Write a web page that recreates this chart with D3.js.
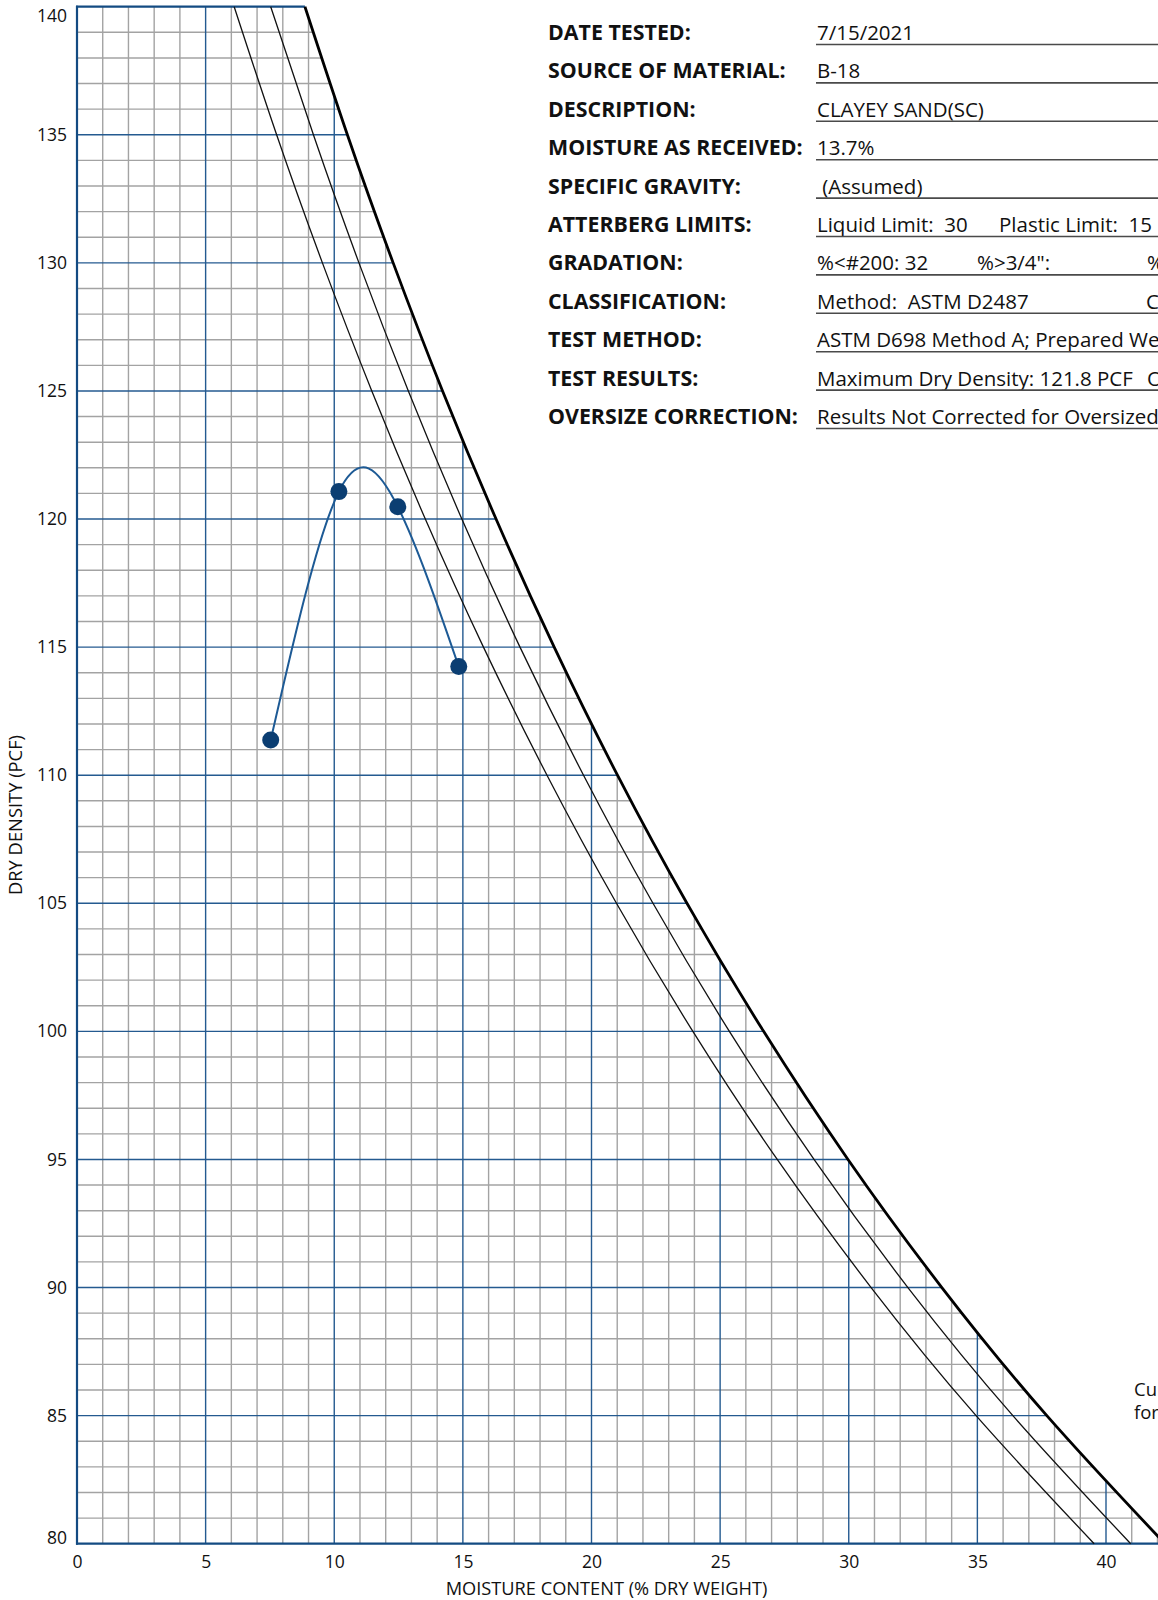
<!DOCTYPE html>
<html>
<head>
<meta charset="utf-8">
<script src="https://cdn.jsdelivr.net/npm/d3@7"></script>
<style>
  html, body { margin: 0; padding: 0; background: #fff; }
  svg { display: block; }
  text { font-family: "Open Sans", "Noto Sans", sans-serif; fill: #111; }
</style>
</head>
<body>
<svg id="chart" width="1158" height="1600"></svg>
<script>
// ---------------- DATA ----------------
const xTicks = [0, 5, 10, 15, 20, 25, 30, 35, 40];
const yTicks = [80, 85, 90, 95, 100, 105, 110, 115, 120, 125, 130, 135, 140];

// Compaction test points
const moisture = [7.53, 10.18, 12.47, 14.84];
const dryDensity = [111.37, 121.07, 120.48, 114.24];

// Zero-air-voids (100% saturation) curves, read at each 5 pcf level
const zavDensity = [140, 135, 130, 125, 120, 115, 110, 105, 100, 95, 90, 85, 80];
const zavGs260 = [6.11, 7.76, 9.54, 11.46, 13.54, 15.80, 18.27, 20.97, 23.94, 27.22, 30.87, 34.95, 39.54];
const zavGs270 = [7.53, 9.19, 10.96, 12.88, 14.96, 17.22, 19.69, 22.39, 25.36, 28.65, 32.30, 36.38, 40.96];
const zavGs280 = [8.86, 10.51, 12.29, 14.21, 16.29, 18.55, 21.01, 23.71, 26.69, 29.97, 33.62, 37.70, 42.29];

// Info panel
const infoLabels = ["DATE TESTED:", "SOURCE OF MATERIAL:", "DESCRIPTION:", "MOISTURE AS RECEIVED:",
  "SPECIFIC GRAVITY:", "ATTERBERG LIMITS:", "GRADATION:", "CLASSIFICATION:", "TEST METHOD:",
  "TEST RESULTS:", "OVERSIZE CORRECTION:"];
const infoValues = [
  ["7/15/2021"],
  ["B-18"],
  ["CLAYEY SAND(SC)"],
  ["13.7%"],
  [" (Assumed)"],
  ["Liquid Limit:  30", "Plastic Limit:  15"],
  ["%<#200: 32", "%>3/4\":", "%>#4:"],
  ["Method:  ASTM D2487", "Classification: SC"],
  ["ASTM D698 Method A; Prepared Wet"],
  ["Maximum Dry Density: 121.8 PCF", "Optimum Moisture: 11.1%"],
  ["Results Not Corrected for Oversized Particles"]
];
const sideNote = ["Curves of 100% Saturation", "for Specific Gravity Equal to:"];

// ---------------- LAYOUT ----------------
const svg = d3.select("#chart");
const x = d3.scaleLinear().domain([0, 40]).range([77, 1106]);
const y = d3.scaleLinear().domain([80, 140]).range([1543.7, 6.7]);

const BLUE = "#245a90";
const AXIS_BLUE = "#134b82";
const GRAY = "#a3a3a3";

const zavLine = d3.line().x(d => x(d[0])).y(d => y(d[1])).curve(d3.curveNatural);
const zip = arr => arr.map((w, i) => [w, zavDensity[i]]);

// clip: region below the Gs = 2.80 saturation curve
const boldPath = zavLine(zip(zavGs280));
const clipD = `M${x(0)},${y(140)}L` + boldPath.slice(1) + `L${x(0)},${y(80)}Z`;
svg.append("defs").append("clipPath").attr("id", "under")
  .append("path").attr("d", clipD);

const grid = svg.append("g").attr("clip-path", "url(#under)");
const minor = d3.range(0, 44, 1);
const minorY = d3.range(80, 141, 1);

grid.selectAll(".vmin").data(minor.filter(v => v % 5 !== 0)).join("line")
  .attr("x1", d => x(d)).attr("x2", d => x(d)).attr("y1", y(80)).attr("y2", y(140))
  .attr("stroke", GRAY).attr("stroke-width", 1.4);
grid.selectAll(".hmin").data(minorY.filter(v => v % 5 !== 0)).join("line")
  .attr("y1", d => y(d)).attr("y2", d => y(d)).attr("x1", x(0)).attr("x2", x(44))
  .attr("stroke", GRAY).attr("stroke-width", 1.4);
grid.selectAll(".vmaj").data(xTicks.filter(v => v > 0)).join("line")
  .attr("x1", d => x(d)).attr("x2", d => x(d)).attr("y1", y(80)).attr("y2", y(140))
  .attr("stroke", BLUE).attr("stroke-width", 1.4);
grid.selectAll(".hmaj").data(yTicks.filter(v => v > 80 && v < 140)).join("line")
  .attr("y1", d => y(d)).attr("y2", d => y(d)).attr("x1", x(0)).attr("x2", x(44))
  .attr("stroke", BLUE).attr("stroke-width", 1.4);

// frame
svg.append("line").attr("x1", x(0)).attr("x2", x(0)).attr("y1", y(140) - 1).attr("y2", y(80) + 1)
  .attr("stroke", AXIS_BLUE).attr("stroke-width", 2.2);
svg.append("line").attr("x1", x(0) - 1).attr("x2", x(44)).attr("y1", y(80)).attr("y2", y(80))
  .attr("stroke", AXIS_BLUE).attr("stroke-width", 2.2);
svg.append("line").attr("x1", x(0) - 1).attr("x2", x(zavGs280[0])).attr("y1", y(140)).attr("y2", y(140))
  .attr("stroke", AXIS_BLUE).attr("stroke-width", 2.2);

// saturation curves
svg.append("path").attr("d", zavLine(zip(zavGs260))).attr("fill", "none").attr("stroke", "#111").attr("stroke-width", 1.3);
svg.append("path").attr("d", zavLine(zip(zavGs270))).attr("fill", "none").attr("stroke", "#111").attr("stroke-width", 1.3);
svg.append("path").attr("d", boldPath).attr("fill", "none").attr("stroke", "#000").attr("stroke-width", 2.8);

// compaction curve
const pts = moisture.map((m, i) => [m, dryDensity[i]]);
svg.append("path").attr("d", d3.line().x(d => x(d[0])).y(d => y(d[1])).curve(d3.curveNatural)(pts))
  .attr("fill", "none").attr("stroke", "#1d5a95").attr("stroke-width", 2);
svg.selectAll(".pt").data(pts).join("circle")
  .attr("cx", d => x(d[0])).attr("cy", d => y(d[1])).attr("r", 8.5).attr("fill", "#0b3e72");

// axes (labels only)
const yAxis = svg.append("g").attr("transform", `translate(${x(0)},0)`)
  .call(d3.axisLeft(y).tickValues(yTicks).tickSize(0).tickPadding(10));
yAxis.select(".domain").remove();
yAxis.selectAll("text").attr("font-size", 17.5).attr("font-family", "'Open Sans', sans-serif").attr("fill", "#111")
  .attr("y", d => d === 140 ? 9 : (d === 80 ? -6 : 0));

const xAxis = svg.append("g").attr("transform", `translate(0,${y(80)})`)
  .call(d3.axisBottom(x).tickValues(xTicks).tickSize(0).tickPadding(12));
xAxis.select(".domain").remove();
xAxis.selectAll("text").attr("font-size", 17.5).attr("font-family", "'Open Sans', sans-serif").attr("fill", "#111");

function fit(sel, target) {
  const w = sel.node().getComputedTextLength();
  const fs = parseFloat(sel.attr("font-size"));
  sel.attr("font-size", (fs * target / w).toFixed(2));
  return fs * target / w;
}

const xt = svg.append("text").attr("x", 606.5).attr("y", 1595).attr("text-anchor", "middle")
  .attr("font-size", 16).text("MOISTURE CONTENT (% DRY WEIGHT)");
fit(xt, 322);
const yt = svg.append("text").attr("transform", "translate(22,815) rotate(-90)").attr("text-anchor", "middle")
  .attr("font-size", 16).text("DRY DENSITY (PCF)");
fit(yt, 160);

// info panel
const rowY = i => 40 + 38.4 * i;
const probeL = svg.append("text").attr("font-size", 20).attr("font-weight", 700).text("OVERSIZE CORRECTION:");
const labelSize = fit(probeL, 250);
probeL.remove();
const probeV = svg.append("text").attr("font-size", 20).text("Maximum Dry Density: 121.8 PCF");
const valueSize = fit(probeV, 316);
probeV.remove();

const segX = [
  [817], [817], [817], [817], [817],
  [817, 999], [817, 977, 1147], [817, 1146], [817], [817, 1147], [817]
];
const panel = svg.append("g");
infoLabels.forEach((lab, i) => {
  panel.append("text").attr("x", 548).attr("y", rowY(i)).attr("font-weight", 700)
    .attr("font-size", labelSize).text(lab);
  infoValues[i].forEach((v, j) => {
    panel.append("text").attr("x", segX[i][j]).attr("y", rowY(i)).attr("font-size", valueSize)
      .attr("xml:space", "preserve").style("white-space", "pre").text(v);
  });
  panel.append("line").attr("x1", 816).attr("x2", 1158).attr("y1", rowY(i) + 4.5).attr("y2", rowY(i) + 4.5)
    .attr("stroke", "#4a4a4a").attr("stroke-width", 1.6);
});

const note = svg.append("text").attr("x", 1134).attr("y", 1396).attr("font-size", 18.5);
note.selectAll("tspan").data(sideNote).join("tspan")
  .attr("x", 1134).attr("dy", (d, i) => i === 0 ? 0 : 23).text(d => d);
</script>
</body>
</html>
